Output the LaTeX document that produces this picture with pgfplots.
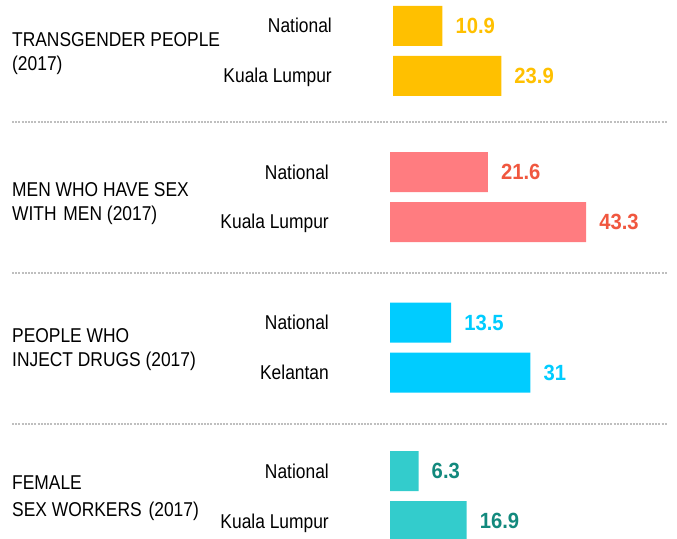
\documentclass[border=0pt]{standalone}
\usepackage{fontspec}
\setmainfont{Liberation Sans}[FakeStretch=0.87]
\newfontfamily\valfont{Liberation Sans}[FakeStretch=0.92]
\usepackage{pgfplots}
\pgfplotsset{compat=1.18}
\definecolor{cyel}{HTML}{FFC000}
\definecolor{cpink}{HTML}{FF7C80}
\definecolor{cred}{HTML}{F0573F}
\definecolor{ccyan}{HTML}{00CCFF}
\definecolor{cteal}{HTML}{33CCCC}
\definecolor{cdteal}{HTML}{12897D}
\definecolor{csep}{HTML}{BFBFBF}
\pgfplotsset{
  myax/.style={width=677bp,height=539bp,scale only axis,hide axis,clip=false,
    ymin=0,ymax=539,y dir=reverse,anchor=south west,at={(0,0)}},
  barstyle/.style={xbar,bar width=40,bar shift=0pt,draw=none,fill=#1,
    nodes near coords,point meta=explicit symbolic,
    every node near coord/.append style={anchor=west,inner sep=0pt,xshift=13bp,
      font=\valfont\bfseries\fontsize{22bp}{24bp}\selectfont}},
}
\newcommand\lab{\fontsize{20bp}{24bp}\selectfont}
\begin{document}
\begin{tikzpicture}
\useasboundingbox (0,0) rectangle (677bp,539bp);
% group 1 (bars start at x=393)
\begin{axis}[myax,xmin=-86.755,xmax=62.693]
\addplot[barstyle=cyel,every node near coord/.append style={text=cyel}] coordinates {(10.9,26) [10.9] (23.9,76) [23.9]};
\end{axis}
% groups 2-4 (bars start at x=390)
\begin{axis}[myax,xmin=-86.093,xmax=63.355]
\addplot[barstyle=cpink,every node near coord/.append style={text=cred}] coordinates {(21.6,172) [21.6] (43.3,222) [43.3]};
\addplot[barstyle=ccyan,every node near coord/.append style={text=ccyan}] coordinates {(13.5,322.5) [13.5] (31,372.5) [31]};
\addplot[barstyle=cteal,every node near coord/.append style={text=cdteal}] coordinates {(6.3,471) [6.3] (16.9,521) [16.9]};
\end{axis}
% separators
\foreach \yy in {417,266,115}
  \draw[csep,line width=2bp,dash pattern=on 2bp off 1.2bp] (12bp,\yy bp) -- (667bp,\yy bp);
% category labels
\begin{scope}[every node/.style={anchor=base east,inner sep=0pt,font=\lab,text=black}]
\node at (332bp,506bp) {National};
\node at (332bp,456bp) {Kuala Lumpur};
\node at (329bp,359bp) {National};
\node at (329bp,310bp) {Kuala Lumpur};
\node at (329bp,209bp) {National};
\node at (329bp,159bp) {Kelantan};
\node at (329bp,60bp) {National};
\node at (329bp,11bp) {Kuala Lumpur};
\end{scope}
% group titles
\begin{scope}[every node/.style={anchor=base west,inner sep=0pt,font=\lab,text=black}]
\node at (12bp,492bp) {TRANSGENDER PEOPLE};
\node at (12bp,468bp) {(2017)};
\node at (12bp,342bp) {MEN WHO HAVE SEX};
\node at (12bp,318bp) {WITH\hspace{2bp} MEN (2017)};
\node at (12bp,196bp) {PEOPLE WHO};
\node at (12bp,172bp) {INJECT DRUGS (2017)};
\node at (12bp,49bp) {FEMALE};
\node at (12bp,23bp) {SEX WORKERS\hspace{2bp} (2017)};
\end{scope}
\end{tikzpicture}
\end{document}
